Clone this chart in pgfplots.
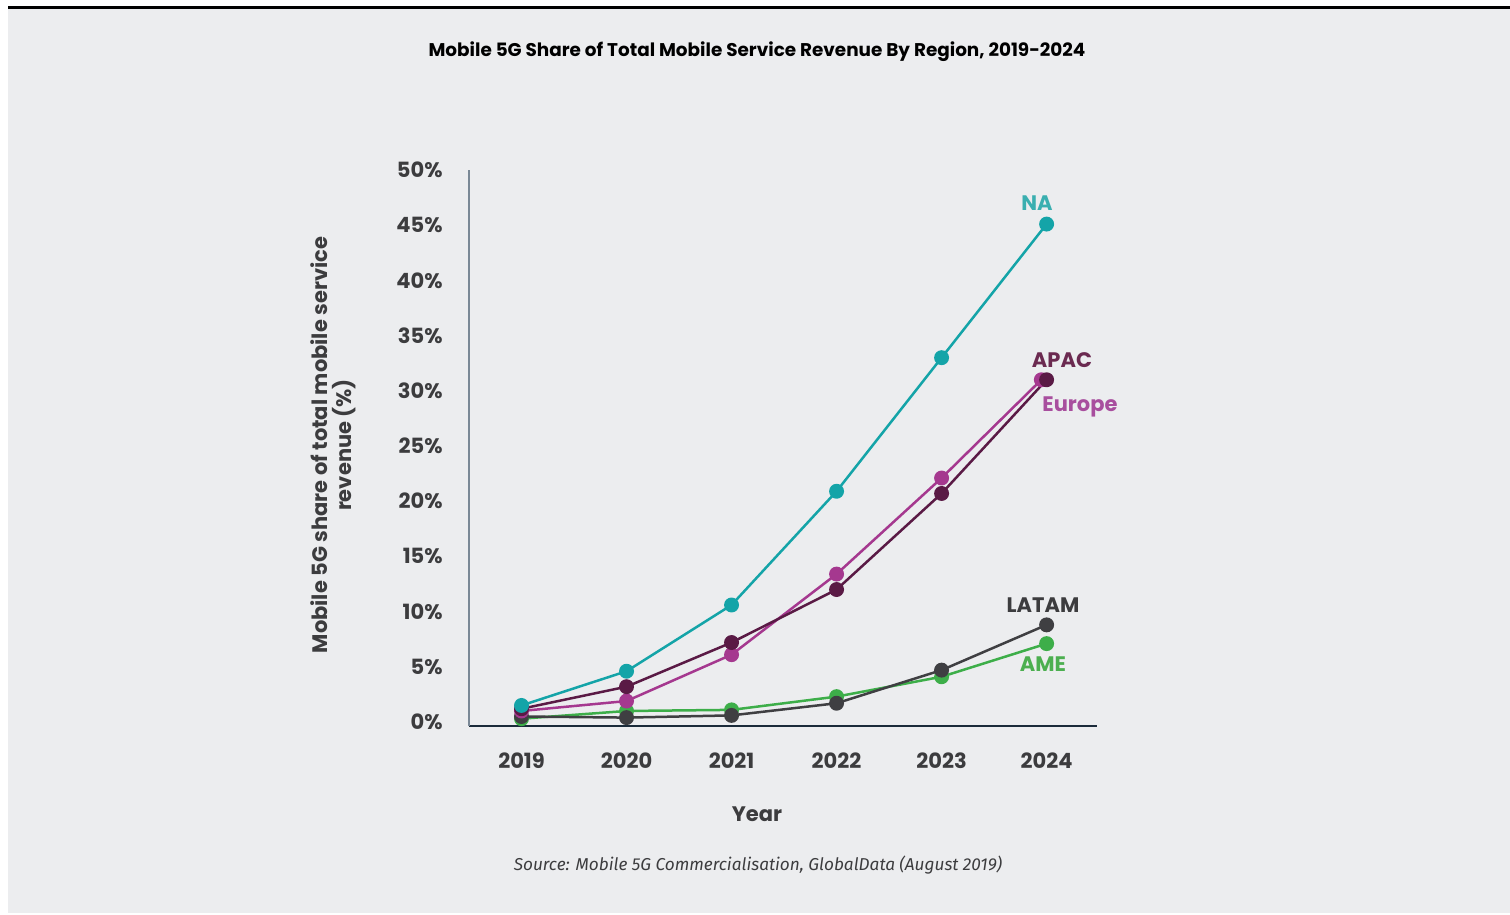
\documentclass[border=0pt]{standalone}
\usepackage{fontspec}
\setmainfont{Poppins}
\newfontfamily\srcfont{Fira Sans}
\usepackage{pgfplots}
\pgfplotsset{compat=1.18}
\definecolor{bg}{HTML}{ECEDEF}
\definecolor{txt}{HTML}{3C3C3E}
\definecolor{cNA}{HTML}{14A4A8}
\definecolor{cAPAC}{HTML}{5A1A45}
\definecolor{cEU}{HTML}{A5388F}
\definecolor{cLA}{HTML}{3F3F42}
\definecolor{cAME}{HTML}{3DAE49}
\definecolor{lNA}{HTML}{3AAFB0}
\definecolor{lAPAC}{HTML}{6B2A50}
\definecolor{lEU}{HTML}{A84E9E}
\definecolor{lAME}{HTML}{4CAF50}
\definecolor{yax}{HTML}{7A8896}
\definecolor{xax}{HTML}{1B2B3A}
\begin{document}
\begin{tikzpicture}
\fill[white] (0pt,0pt) rectangle (755pt,457.5pt);
\fill[bg] (4pt,1pt) rectangle (755pt,453pt);
\fill[black] (4pt,453pt) rectangle (755pt,454.5pt);
\node[font=\bfseries\fontsize{9.2}{11}\selectfont, text=black] at (378.5pt,431.5pt) {Mobile 5G Share of Total Mobile Service Revenue By Region, 2019-2024};
\node[font=\srcfont\itshape\fontsize{8.6}{10}\selectfont, text=txt] at (379pt,25pt) {Source: Mobile 5G Commercialisation, GlobalData (August 2019)};
\node[font=\bfseries\fontsize{10.5}{12}\selectfont, text=txt] at (378.5pt,50.5pt) {Year};
\node[font=\bfseries\fontsize{10.5}{12}\selectfont, text=txt, rotate=90, align=center] at (166.5pt,235pt) {Mobile 5G share of total mobile service\\revenue (\%)};
\begin{axis}[
  at={(234.5pt,94.5pt)}, anchor=south west,
  scale only axis, width=314pt, height=278pt,
  xmin=2018.5, xmax=2024.48, ymin=-0.36, ymax=50,
  axis x line*=bottom, axis y line*=left,
  x axis line style={-, color=xax, line width=0.6pt},
  y axis line style={-, color=yax, line width=0.8pt},
  xtick={2019,2020,2021,2022,2023,2024},
  xticklabels={2019,2020,2021,2022,2023,2024},
  ytick={0,5,...,50},
  yticklabel={\pgfmathprintnumber{\tick}\%},
  major tick length=0pt,
  tick label style={font=\bfseries\fontsize{10.5}{12}\selectfont, text=txt},
  /pgf/number format/assume math mode=true,
  yticklabel style={anchor=east, inner sep=0pt, xshift=-13pt},
  xticklabel style={anchor=north, inner sep=0pt, yshift=-13pt},
  clip=false,
  every axis plot/.append style={line width=1.25pt, mark=*, mark size=3.1pt, mark options={solid}},
]
\addplot[color=cAME, mark options={fill=cAME}] coordinates {(2019,0.3) (2020,1.0) (2021,1.1) (2022,2.3) (2023,4.1) (2024,7.1)};
\addplot[color=cLA, mark options={fill=cLA}] coordinates {(2019,0.5) (2020,0.4) (2021,0.6) (2022,1.7) (2023,4.7) (2024,8.8)};
\addplot[color=cEU, mark options={fill=cEU}] coordinates {(2019,1.0) (2020,1.9) (2021,6.1) (2022,13.4) (2023,22.1) (2023.95,31.0)};
\addplot[color=cAPAC, mark options={fill=cAPAC}] coordinates {(2019,1.2) (2020,3.2) (2021,7.2) (2022,12.0) (2023,20.7) (2024,31.0)};
\addplot[color=cNA, mark options={fill=cNA}] coordinates {(2019,1.5) (2020,4.6) (2021,10.6) (2022,20.9) (2023,33.0) (2024,45.1)};
\end{axis}
\node[font=\bfseries\fontsize{10.5}{12}\selectfont, text=lNA] at (518.5pt,356pt) {NA};
\node[font=\bfseries\fontsize{10.5}{12}\selectfont, text=lAPAC] at (531pt,277.5pt) {APAC};
\node[font=\bfseries\fontsize{10.5}{12}\selectfont, text=lEU] at (540pt,254pt) {Europe};
\node[font=\bfseries\fontsize{10.5}{12}\selectfont, text=txt] at (521.5pt,155pt) {LATAM};
\node[font=\bfseries\fontsize{10.5}{12}\selectfont, text=lAME] at (521.5pt,125.5pt) {AME};
\end{tikzpicture}
\end{document}
